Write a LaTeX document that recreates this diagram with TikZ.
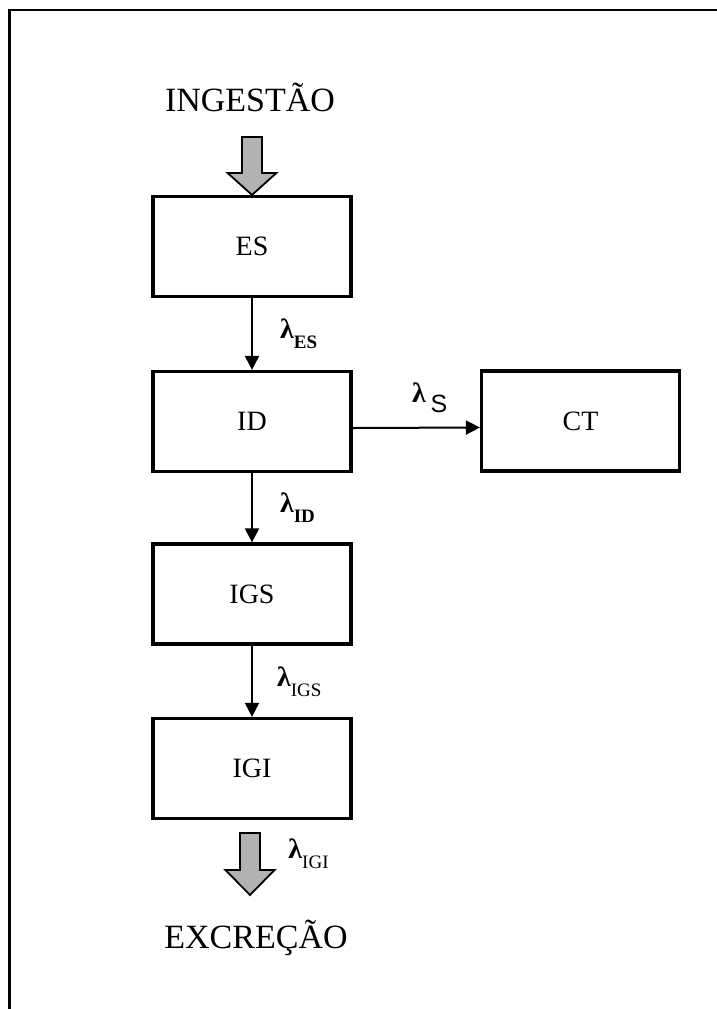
\documentclass[tikz,border=0pt]{standalone}
\usepackage{fontspec}
\setmainfont{Liberation Serif}
\newfontfamily\ratesans{Liberation Sans}
\usetikzlibrary{arrows.meta,positioning}

\begin{document}
\begin{tikzpicture}[x=0.5pt,y=-0.5pt,
  box/.style={draw,line width=1.6pt,minimum width=99pt,minimum height=50pt,inner sep=0pt,font=\fontsize{14}{16}\selectfont},
  flow/.style={line width=1pt,-{Triangle[length=7pt,width=7pt]}},
  fatarrow/.style={draw,line width=0.9pt,fill=gray!60,line join=miter},
  rate/.style={inner sep=0pt,font=\fontsize{14}{16}\selectfont},
  title/.style={inner sep=0pt,font=\fontsize{17}{20}\selectfont}]
\useasboundingbox (0,0) rectangle (717,1009);
% frame
\draw[line width=1.5pt] (9,1009) -- (9,10);
\draw[line width=1pt] (8,10) -- (717,10);
% compartments
\node[box] (ES) at (252,246.5) {ES};
\node[box] (ID) at (252,421.5) {ID};
\node[box] (CT) at (580.5,421) {CT};
\node[box] (IGS) at (252,594) {IGS};
\node[box] (IGI) at (252,768.5) {IGI};
\node[title] (ingest) at (250,97) {INGESTÃO};
\node[title] (excret) at (256,938) {EXCREÇÃO};
% transfers
\draw[flow] (ES.south) -- node[rate,right=13.5pt] {\textbf{λ}\raisebox{-5pt}{\fontsize{9.5}{10}\selectfont\bfseries ES}} (ID.north);
\draw[flow] ([yshift=-3.25pt]ID.east) -- node[rate,anchor=south west,pos=0.46,yshift=7pt] {\textbf{λ}\,\raisebox{-5pt}{\ratesans\fontsize{12.5}{14}\selectfont S}} ([yshift=-3.25pt]CT.west);
\draw[flow] (ID.south) -- node[rate,right=13.5pt] {\textbf{λ}\raisebox{-5pt}{\fontsize{9.5}{10}\selectfont\bfseries ID}} (IGS.north);
\draw[flow] (IGS.south) -- node[rate,right=12pt] {\textbf{λ}\raisebox{-5pt}{\fontsize{9.5}{10}\selectfont IGS}} (IGI.north);
% intake and excretion
\draw[fatarrow] (ES.north) -- ++(-24.5,-22) -- ++(14.5,0) -- ++(0,-36) -- ++(20,0) -- ++(0,36) -- ++(14.5,0) -- cycle;
\coordinate (outTip) at (250,895);
\draw[fatarrow] (outTip) -- ++(-24.5,-25) -- ++(14.5,0) -- ++(0,-37) -- ++(20,0) -- ++(0,37) -- ++(14.5,0) -- cycle;
\node[rate,anchor=base west] (lamIGI) at (288,858) {\textbf{λ}\raisebox{-5pt}{\fontsize{9.5}{10}\selectfont IGI}};
\end{tikzpicture}
\end{document}
